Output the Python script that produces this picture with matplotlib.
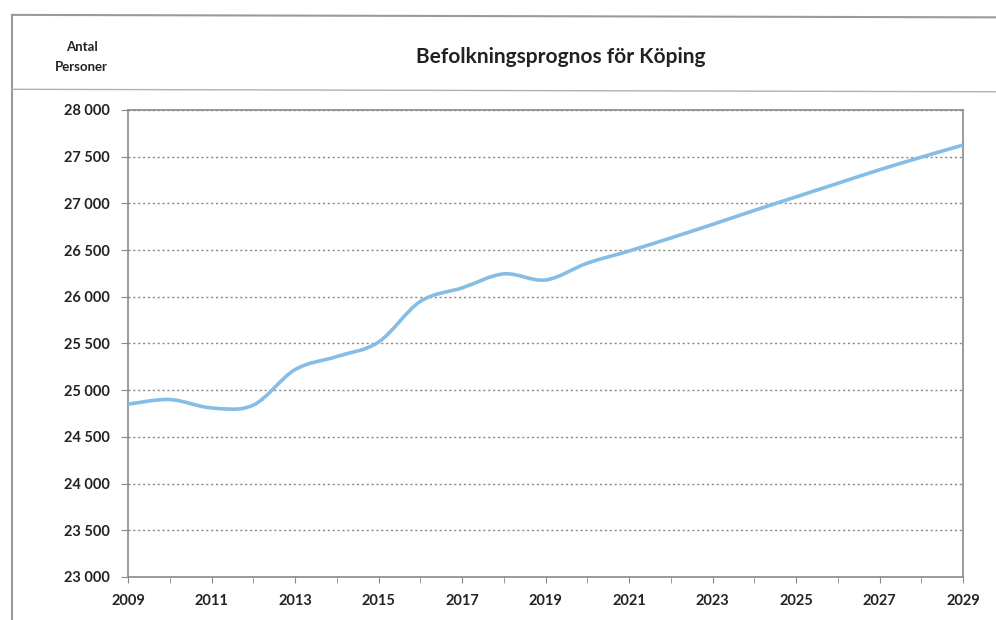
import matplotlib
matplotlib.use("Agg")
import matplotlib.pyplot as plt
import numpy as np
from matplotlib.path import Path
from matplotlib.patches import PathPatch
from matplotlib.lines import Line2D
from matplotlib.ticker import FuncFormatter, MultipleLocator

plt.rcParams['font.family'] = ['Lato', 'DejaVu Sans']

years = np.arange(2009, 2030)
population = [24850, 24900, 24810, 24840, 25220, 25360, 25515, 25950, 26095, 26245,
              26180, 26360, 26490, 26630, 26775, 26925, 27070, 27215, 27360, 27495, 27625]
title = "Befolkningsprognos för Köping"
ylabel = "Antal\nPersoner"


def smooth_path(x, y, t=1 / 6):
    # Excel-like smoothed line: Catmull-Rom segments as cubic Bezier curves
    x = np.asarray(x, float)
    y = np.asarray(y, float)
    verts = [(x[0], y[0])]
    codes = [Path.MOVETO]
    n = len(x)
    for i in range(n - 1):
        p0 = i - 1 if i > 0 else i
        p3 = i + 2 if i + 2 < n else i + 1
        c1 = (x[i] + (x[i + 1] - x[p0]) * t, y[i] + (y[i + 1] - y[p0]) * t)
        c2 = (x[i + 1] - (x[p3] - x[i]) * t, y[i + 1] - (y[p3] - y[i]) * t)
        verts += [c1, c2, (x[i + 1], y[i + 1])]
        codes += [Path.CURVE4] * 3
    return Path(verts, codes)


fig = plt.figure(figsize=(9.96, 6.2), dpi=100)
ax = fig.add_axes([0.1285, 0.0694, 0.967 - 0.1285, 0.8226 - 0.0694])

ax.add_patch(PathPatch(smooth_path(years, population), facecolor='none',
                       edgecolor='#86bde4', lw=2.6, zorder=3))
ax.set_xlim(2009, 2029)
ax.set_ylim(23000, 28000)

ax.yaxis.set_major_locator(MultipleLocator(500))
ax.yaxis.set_major_formatter(FuncFormatter(lambda v, p: f"{int(v):,}".replace(",", " ")))
ax.set_xticks(years[::2])
ax.set_xticks(years, minor=True)
ax.grid(axis='y', linestyle=(0, (1.5, 2)), color='#888888', lw=1.0)

for s in ax.spines.values():
    s.set_color('#8a8a8a')
    s.set_linewidth(1.2)

ax.tick_params(axis='both', labelsize=10.5, colors='#222222', direction='out')
ax.tick_params(axis='x', which='both', length=4, color='#8a8a8a', pad=8)
ax.tick_params(axis='y', length=5, color='#8a8a8a', pad=8)
for lab in ax.get_xticklabels() + ax.get_yticklabels():
    lab.set_fontweight('bold')

fig.text(0.563, 0.908, title, ha='center', va='center', fontsize=15, fontweight='bold', color='#222222')
fig.text(0.082, 0.908, ylabel, ha='center', va='center', fontsize=9.5, fontweight='bold',
         color='#222222', linespacing=1.8)

# frame lines of the scanned chart box
fig.add_artist(Line2D([0.012, 1.0], [0.976, 0.972], color='#9a9a9a', lw=1.5, transform=fig.transFigure))
fig.add_artist(Line2D([0.012, 0.012], [0.976, 0.0], color='#9a9a9a', lw=1.5, transform=fig.transFigure))
fig.add_artist(Line2D([0.012, 1.0], [0.856, 0.852], color='#b0b0b0', lw=1.0, transform=fig.transFigure))

fig.savefig("out.png", dpi=100)
